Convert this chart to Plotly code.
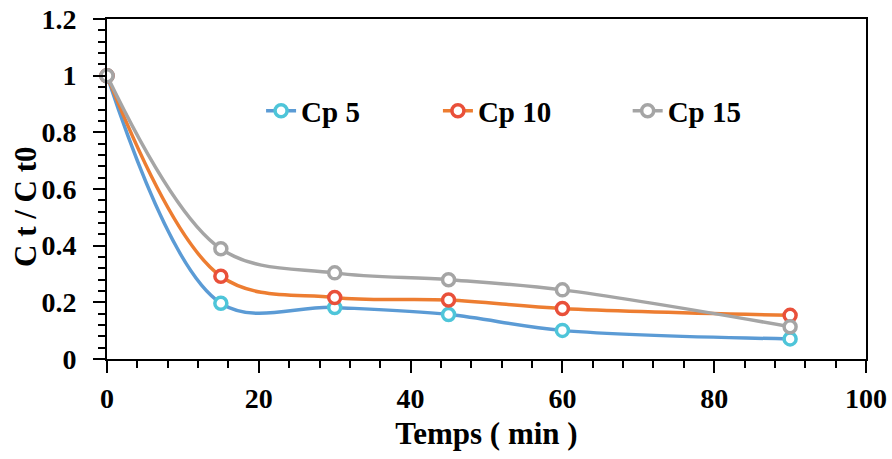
import plotly.graph_objects as go

temps = [0, 15, 30, 45, 60, 90]
cp5 = [1.0, 0.197, 0.182, 0.157, 0.101, 0.071]
cp10 = [1.0, 0.292, 0.217, 0.208, 0.178, 0.154]
cp15 = [1.0, 0.389, 0.304, 0.280, 0.244, 0.114]
names = ["Cp 5", "Cp 10", "Cp 15"]
line_colors = ["#5B9BD5", "#ED7D31", "#A5A5A5"]
marker_colors = ["#4EC5D9", "#E9503A", "#A5A5A5"]
legend_ids = ["legend", "legend2", "legend3"]
x_title = "Temps ( min )"
y_title = "C t / C t0"

FONT = "Liberation Serif"

fig = go.Figure()
for name, ys, lc, mc, lg in zip(names, [cp5, cp10, cp15], line_colors, marker_colors, legend_ids):
    fig.add_trace(go.Scatter(
        x=temps, y=ys, name=name, mode="lines+markers",
        line=dict(color=lc, width=3.5, shape="spline", smoothing=1.0),
        marker=dict(symbol="circle", size=12, color="white",
                    line=dict(color=mc, width=3.5)),
        cliponaxis=False, legend=lg, showlegend=True,
    ))

axis_common = dict(
    showline=True, linecolor="black", linewidth=2, mirror=True,
    ticks="outside", ticklen=12, tickwidth=2, tickcolor="black",
    showgrid=False, zeroline=False, automargin=False,
    tickfont=dict(family=FONT, size=28, color="black", weight="bold"),
)

fig.update_xaxes(
    range=[0, 100], dtick=20, tick0=0,
    minor=dict(dtick=4, ticks="outside", ticklen=7, tickwidth=2, tickcolor="black"),
    ticklabelstandoff=1,
    title=dict(text=x_title, standoff=10,
               font=dict(family=FONT, size=31, color="black", weight="bold")),
    **axis_common,
)
fig.update_yaxes(
    range=[0, 1.2], dtick=0.2, tick0=0,
    minor=dict(dtick=0.04, ticks="outside", ticklen=7, tickwidth=2, tickcolor="black"),
    ticklabelstandoff=11,
    **axis_common,
)

fig.add_annotation(
    text=y_title, textangle=-90, xref="paper", yref="paper",
    x=-0.1076, y=0.448, xanchor="center", yanchor="middle", showarrow=False,
    font=dict(family=FONT, size=31, color="black", weight="bold"),
)

leg_font = dict(family=FONT, size=29, color="black", weight="bold")
leg_base = dict(orientation="h", xref="paper", yref="paper", xanchor="left",
                yanchor="middle", y=0.73, font=leg_font, bgcolor="rgba(0,0,0,0)",
                borderwidth=0, visible=True)

fig.update_layout(
    width=892, height=459,
    margin=dict(l=107, r=26, t=19, b=100),
    paper_bgcolor="white", plot_bgcolor="white",
    showlegend=True,
    legend=dict(x=0.203, **leg_base),
    legend2=dict(x=0.436, **leg_base),
    legend3=dict(x=0.686, **leg_base),
)

fig.write_html("out.html", config={"displayModeBar": False},
               post_script="document.body.style.margin='0';document.body.style.overflow='hidden';")
